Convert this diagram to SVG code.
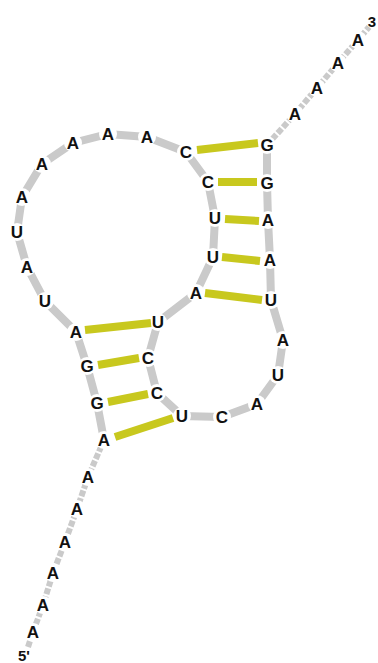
<svg xmlns="http://www.w3.org/2000/svg" width="378" height="663" viewBox="0 0 378 663">
<style>
.bb{fill:none;stroke:#cacaca;stroke-width:8;stroke-linejoin:miter}
.tl{fill:none;stroke:#cacaca;stroke-width:6;stroke-dasharray:6 2}
.bp{stroke:#c8c81e;stroke-width:8;stroke-linecap:butt}
.nt text{font-family:"Liberation Sans",Arial,sans-serif;font-weight:bold;font-size:17px;fill:#111;text-anchor:middle}
.lb{font-family:"Liberation Sans",Arial,sans-serif;font-weight:bold;font-size:15px;fill:#111;text-anchor:middle}
</style>
<defs>
<mask id="m" maskUnits="userSpaceOnUse" x="0" y="0" width="378" height="663">
<rect x="0" y="0" width="378" height="663" fill="#fff"/>
<g fill="#000">
<circle cx="33" cy="632" r="9"/><circle cx="43" cy="605" r="9"/><circle cx="53" cy="573" r="9"/><circle cx="65" cy="542" r="9"/><circle cx="77" cy="509" r="9"/><circle cx="88" cy="477" r="9"/><circle cx="104" cy="440" r="9"/><circle cx="97" cy="403" r="9"/><circle cx="87" cy="366" r="9"/><circle cx="76" cy="332" r="9"/><circle cx="45" cy="301" r="9"/><circle cx="27" cy="267" r="9"/><circle cx="17" cy="232" r="9"/><circle cx="22" cy="197" r="9"/><circle cx="42" cy="164" r="9"/><circle cx="73" cy="143" r="9"/><circle cx="108" cy="134" r="9"/><circle cx="147" cy="137" r="9"/><circle cx="186" cy="152" r="9"/><circle cx="208" cy="182" r="9"/><circle cx="215" cy="218" r="9"/><circle cx="213" cy="257" r="9"/><circle cx="196" cy="293" r="9"/><circle cx="158" cy="322" r="9"/><circle cx="148" cy="358" r="9"/><circle cx="157" cy="393" r="9"/><circle cx="182" cy="416" r="9"/><circle cx="222" cy="417" r="9"/><circle cx="257" cy="404" r="9"/><circle cx="278" cy="375" r="9"/><circle cx="283" cy="340" r="9"/><circle cx="271" cy="300" r="9"/><circle cx="270" cy="260" r="9"/><circle cx="268" cy="220" r="9"/><circle cx="267" cy="183" r="9"/><circle cx="267" cy="145" r="9"/><circle cx="295" cy="114" r="9"/><circle cx="317" cy="88" r="9"/><circle cx="338" cy="63" r="9"/><circle cx="358" cy="40" r="9"/>
</g>
</mask>
</defs>
<g id="connectors" mask="url(#m)">
<polyline class="tl" points="28,647 33,632 43,605 53,573 65,542 77,509 88,477 104,440"/>
<polyline class="bb" points="104,440 97,403 87,366 76,332 45,301 27,267 17,232 22,197 42,164 73,143 108,134 147,137 186,152 208,182 215,218 213,257 196,293 158,322 148,358 157,393 182,416 222,417 257,404 278,375 283,340 271,300 270,260 268,220 267,183 267,145"/>
<polyline class="tl" points="267,145 295,114 317,88 338,63 358,40 369,27"/>
</g>
<g id="pairs">
<line class="bp" x1="85" y1="330" x2="151" y2="323"/>
<line class="bp" x1="98" y1="365" x2="139" y2="358"/>
<line class="bp" x1="108" y1="402" x2="148" y2="394"/>
<line class="bp" x1="115" y1="437" x2="173" y2="418"/>
<line class="bp" x1="197" y1="150" x2="258" y2="143"/>
<line class="bp" x1="218" y1="182" x2="257" y2="182"/>
<line class="bp" x1="225" y1="219" x2="259" y2="221"/>
<line class="bp" x1="222" y1="257" x2="260" y2="261"/>
<line class="bp" x1="205" y1="293" x2="262" y2="300"/>
</g>
<g id="label5"><text class="lb" x="24" y="661">5'</text></g>
<g id="label3"><text class="lb" x="372" y="27">3</text></g>
<g id="n1" class="nt"><text x="33" y="638">A</text></g>
<g id="n2" class="nt"><text x="43" y="611">A</text></g>
<g id="n3" class="nt"><text x="53" y="579">A</text></g>
<g id="n4" class="nt"><text x="65" y="548">A</text></g>
<g id="n5" class="nt"><text x="77" y="515">A</text></g>
<g id="n6" class="nt"><text x="88" y="483">A</text></g>
<g id="n7" class="nt"><text x="104" y="446">A</text></g>
<g id="n8" class="nt"><text x="97" y="409">G</text></g>
<g id="n9" class="nt"><text x="87" y="372">G</text></g>
<g id="n10" class="nt"><text x="76" y="338">A</text></g>
<g id="n11" class="nt"><text x="45" y="307">U</text></g>
<g id="n12" class="nt"><text x="27" y="273">A</text></g>
<g id="n13" class="nt"><text x="17" y="238">U</text></g>
<g id="n14" class="nt"><text x="22" y="203">A</text></g>
<g id="n15" class="nt"><text x="42" y="170">A</text></g>
<g id="n16" class="nt"><text x="73" y="149">A</text></g>
<g id="n17" class="nt"><text x="108" y="140">A</text></g>
<g id="n18" class="nt"><text x="147" y="143">A</text></g>
<g id="n19" class="nt"><text x="186" y="158">C</text></g>
<g id="n20" class="nt"><text x="208" y="188">C</text></g>
<g id="n21" class="nt"><text x="215" y="224">U</text></g>
<g id="n22" class="nt"><text x="213" y="263">U</text></g>
<g id="n23" class="nt"><text x="196" y="299">A</text></g>
<g id="n24" class="nt"><text x="158" y="328">U</text></g>
<g id="n25" class="nt"><text x="148" y="364">C</text></g>
<g id="n26" class="nt"><text x="157" y="399">C</text></g>
<g id="n27" class="nt"><text x="182" y="422">U</text></g>
<g id="n28" class="nt"><text x="222" y="423">C</text></g>
<g id="n29" class="nt"><text x="257" y="410">A</text></g>
<g id="n30" class="nt"><text x="278" y="381">U</text></g>
<g id="n31" class="nt"><text x="283" y="346">A</text></g>
<g id="n32" class="nt"><text x="271" y="306">U</text></g>
<g id="n33" class="nt"><text x="270" y="266">A</text></g>
<g id="n34" class="nt"><text x="268" y="226">A</text></g>
<g id="n35" class="nt"><text x="267" y="189">G</text></g>
<g id="n36" class="nt"><text x="267" y="151">G</text></g>
<g id="n37" class="nt"><text x="295" y="120">A</text></g>
<g id="n38" class="nt"><text x="317" y="94">A</text></g>
<g id="n39" class="nt"><text x="338" y="69">A</text></g>
<g id="n40" class="nt"><text x="358" y="46">A</text></g>
</svg>
